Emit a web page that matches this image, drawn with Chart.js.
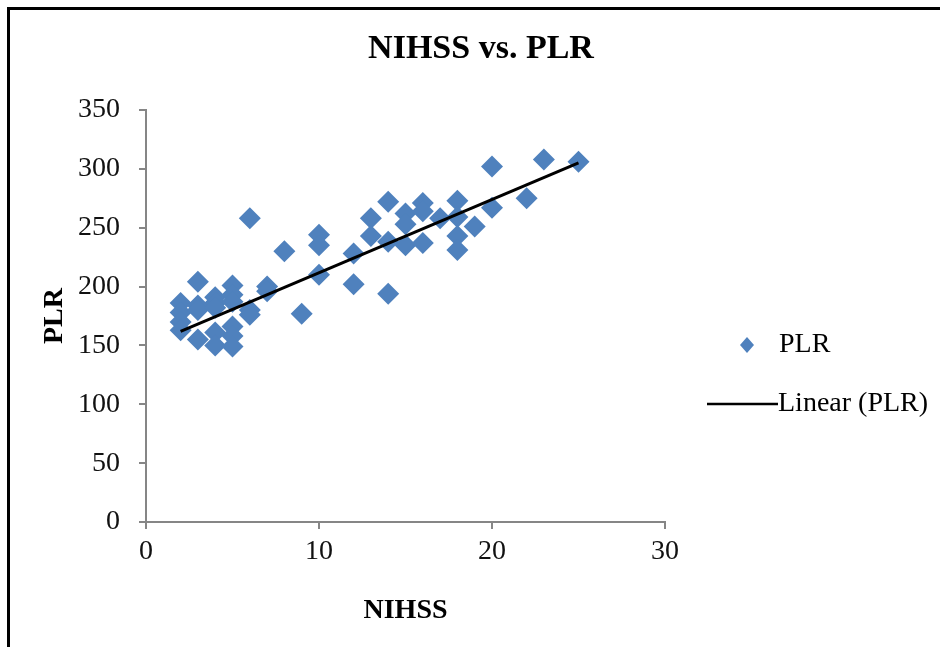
<!DOCTYPE html>
<html lang="en">
<head>
<meta charset="UTF-8">
<title>NIHSS vs. PLR</title>
<script src="https://cdn.jsdelivr.net/npm/chart.js@4.4.1/dist/chart.umd.min.js"></script>
<style>
    html, body {
        margin: 0;
        padding: 0;
        background: #fff;
    }
    #wrap {
        position: relative;
        width: 940px;
        height: 647px;
    }
</style>
</head>
<body>
<div id="wrap">
    <canvas id="myChart"></canvas>
</div>
<script>
// NIHSS score (x) and PLR (y), point by point
const nihss = [
    2, 2, 2, 2,
    3, 3, 3, 3,
    4, 4, 4, 4, 4,
    5, 5, 5, 5, 5, 5,
    6, 6, 6,
    7, 7,
    8,
    9,
    10, 10, 10,
    12, 12,
    13, 13,
    14, 14, 14,
    15, 15, 15,
    16, 16, 16,
    17,
    18, 18, 18, 18,
    19,
    20, 20,
    22,
    23,
    25
];
const plr = [
    186, 178, 170, 163,
    204, 184, 180, 155,
    191, 186, 182, 161, 150,
    201, 193, 187, 166, 158, 149,
    258, 180, 176,
    200, 196,
    230,
    177,
    244, 235, 210,
    228, 202,
    258, 243,
    272, 238, 194,
    262, 253, 235,
    271, 264, 237,
    258,
    273, 259, 243, 231,
    251,
    302, 267,
    275,
    308,
    306
];

// trend line ends as drawn in the picture
const trendX = [2, 25];
const trendY = [162, 305];

const xTicks = [0, 10, 20, 30];
const yTicks = [0, 50, 100, 150, 200, 250, 300, 350];

const titleText = 'NIHSS vs. PLR';
const xTitle = 'NIHSS';
const yTitle = 'PLR';
const scatterLabel = 'PLR';
const trendLabel = 'Linear (PLR)';

const blue = '#4F81BD';
const axisGray = '#868686';
const serif = '"Liberation Serif", "Times New Roman", serif';

const points = nihss.map((x, i) => ({ x: x, y: plr[i] }));
const trend = trendX.map((x, i) => ({ x: x, y: trendY[i] }));

// white page, the cut frame on top/left, the title and the legend
const decor = {
    id: 'decor',
    beforeDraw(chart) {
        const ctx = chart.ctx;
        ctx.save();
        ctx.fillStyle = '#fff';
        ctx.fillRect(0, 0, chart.width, chart.height);
        ctx.strokeStyle = '#000';
        ctx.lineWidth = 3;
        ctx.beginPath();
        ctx.moveTo(8.5, chart.height);
        ctx.lineTo(8.5, 8.5);
        ctx.lineTo(chart.width, 8.5);
        ctx.stroke();
        ctx.restore();
    },
    afterDraw(chart) {
        const ctx = chart.ctx;
        const ds0 = chart.data.datasets[0];
        const ds1 = chart.data.datasets[1];
        ctx.save();
        ctx.fillStyle = '#000';
        ctx.font = 'bold 34px ' + serif;
        ctx.textAlign = 'center';
        ctx.textBaseline = 'alphabetic';
        ctx.fillText(titleText, 481, 58);

        // legend: marker + label, then line + label
        ctx.fillStyle = ds0.backgroundColor;
        ctx.beginPath();
        ctx.moveTo(747, 337);
        ctx.lineTo(754, 345);
        ctx.lineTo(747, 353);
        ctx.lineTo(740, 345);
        ctx.closePath();
        ctx.fill();

        ctx.strokeStyle = ds1.borderColor;
        ctx.lineWidth = 2.5;
        ctx.beginPath();
        ctx.moveTo(707, 404);
        ctx.lineTo(778, 404);
        ctx.stroke();

        ctx.fillStyle = '#000';
        ctx.font = '28px ' + serif;
        ctx.textAlign = 'left';
        ctx.textBaseline = 'middle';
        ctx.fillText(scatterLabel, 779, 345);
        ctx.fillText(trendLabel, 778, 404);
        ctx.restore();
    }
};

const ctx = document.getElementById('myChart').getContext('2d');
const chart = new Chart(ctx, {
    type: 'scatter',
    data: {
        datasets: [{
            label: scatterLabel,
            data: points,
            pointStyle: 'rectRot',
            pointRadius: 11,
            pointHoverRadius: 11,
            backgroundColor: blue,
            borderColor: blue,
            borderWidth: 0,
            order: 1
        }, {
            type: 'line',
            label: trendLabel,
            data: trend,
            borderColor: '#000',
            borderWidth: 3,
            pointRadius: 0,
            fill: false,
            order: 0
        }]
    },
    options: {
        responsive: true,
        maintainAspectRatio: false,
        animation: false,
        layout: {
            padding: { top: 110, right: 275, bottom: 0, left: 0 }
        },
        plugins: {
            legend: { display: false },
            title: { display: false },
            tooltip: { enabled: false }
        },
        scales: {
            x: {
                type: 'linear',
                min: 0,
                max: 30,
                afterBuildTicks: s => { s.ticks = xTicks.map(v => ({ value: v })); },
                afterFit: s => { s.height = 125; },
                ticks: {
                    color: '#111',
                    padding: 6,
                    font: { family: serif, size: 28 }
                },
                grid: {
                    drawOnChartArea: false,
                    drawTicks: true,
                    tickLength: 7,
                    color: axisGray,
                    lineWidth: 2
                },
                border: { display: true, color: axisGray, width: 2 },
                title: {
                    display: true,
                    text: xTitle,
                    color: '#000',
                    font: { family: serif, size: 28, weight: 'bold' },
                    padding: { top: 0, bottom: 19 }
                }
            },
            y: {
                type: 'linear',
                min: 0,
                max: 350,
                afterBuildTicks: s => { s.ticks = yTicks.map(v => ({ value: v })); },
                afterFit: s => { s.width = 146; },
                ticks: {
                    color: '#111',
                    padding: 19,
                    font: { family: serif, size: 28 }
                },
                grid: {
                    drawOnChartArea: false,
                    drawTicks: true,
                    tickLength: 7,
                    color: axisGray,
                    lineWidth: 2
                },
                border: { display: true, color: axisGray, width: 2 },
                title: {
                    display: true,
                    text: yTitle,
                    color: '#000',
                    font: { family: serif, size: 28, weight: 'bold' },
                    padding: { top: 38, bottom: 0 }
                }
            }
        }
    },
    plugins: [decor]
});
</script>
</body>
</html>
